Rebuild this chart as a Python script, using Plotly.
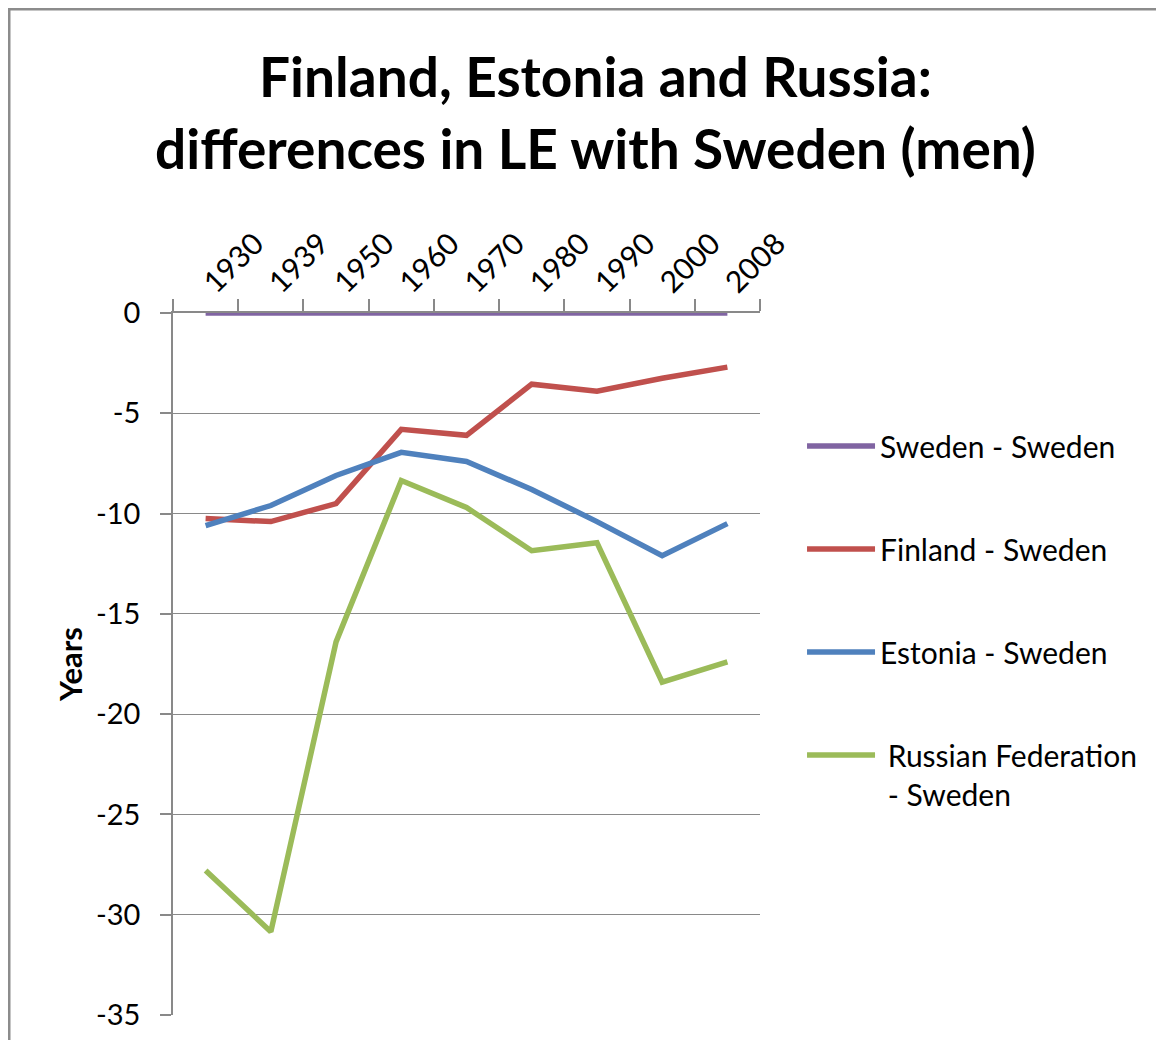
import plotly.graph_objects as go

years = ["1930", "1939", "1950", "1960", "1970", "1980", "1990", "2000", "2008"]
sweden = [0, 0, 0, 0, 0, 0, 0, 0, 0]
finland = [-10.25, -10.4, -9.5, -5.8, -6.1, -3.55, -3.9, -3.25, -2.7]
estonia = [-10.6, -9.6, -8.1, -6.95, -7.4, -8.8, -10.4, -12.1, -10.5]
russia = [-27.8, -30.85, -16.4, -8.35, -9.7, -11.85, -11.45, -18.4, -17.4]
y_ticks = [0, -5, -10, -15, -20, -25, -30, -35]
y_tick_labels = ["0", "-5", "-10", "-15", "-20", "-25", "-30", "-35"]

series = [
    ("Sweden - Sweden", sweden, "#8064A2"),
    ("Finland - Sweden", finland, "#C0504D"),
    ("Estonia - Sweden", estonia, "#4F81BD"),
    (" Russian Federation<br> - Sweden", russia, "#9BBB59"),
]

FONT = "Lato, 'Open Sans', sans-serif"
GRAY = "#898989"

fig = go.Figure()
for i, (name, vals, col) in enumerate(series):
    fig.add_trace(go.Scatter(
        x=years, y=vals, name=name, mode="lines",
        line=dict(color=col, width=5.5), legendgroup=f"g{i}",
    ))

# figure coordinates (page minus 8px body margin)
L, R, T, B = 165, 752, 305, 1007
W, H = 1148, 1032
pw, ph = R - L, B - T

fig.update_layout(
    width=W, height=H,
    margin=dict(l=L, r=W - R, t=T, b=H - B, autoexpand=False),
    paper_bgcolor="white", plot_bgcolor="white",
    font=dict(family=FONT, size=29, color="#000000"),
    xaxis=dict(
        type="category", side="top", range=[-0.5, 8.5],
        showline=True, linecolor=GRAY, linewidth=1.5,
        ticks="outside", tickson="boundaries", ticklen=12, tickcolor=GRAY, tickwidth=1.5,
        tickangle=-45, showgrid=False, zeroline=False,
        tickfont=dict(family=FONT, size=30),
    ),
    yaxis=dict(
        range=[-35, 0], tickvals=y_ticks, ticktext=y_tick_labels,
        showline=True, linecolor=GRAY, linewidth=1.5,
        ticks="outside", ticklen=11, tickcolor=GRAY, tickwidth=1.5,
        showgrid=True, gridcolor=GRAY, gridwidth=1.2, zeroline=False,
        tickfont=dict(family=FONT, size=29), ticklabelstandoff=14,
        title=dict(text="<b>Years</b>", font=dict(family=FONT, size=31), standoff=4),
    ),
    legend=dict(
        x=1.0716, xanchor="left",
        y=0.8476, yanchor="top",
        traceorder="grouped", tracegroupgap=61, valign="top",
        font=dict(family=FONT, size=30), itemwidth=68,
        bgcolor="rgba(0,0,0,0)",
    ),
    showlegend=True,
    annotations=[dict(
        text="<b>Finland, Estonia and Russia:<br>differences in LE with Sweden (men)</b>",
        xref="paper", yref="paper",
        x=(587 - L) / pw, y=(B - 104) / ph, xanchor="center", yanchor="middle",
        showarrow=False, align="center",
        font=dict(family=FONT, size=55, color="#000000"),
    )],
    shapes=[dict(
        type="rect", xref="paper", yref="paper",
        x0=(1 - L) / pw, x1=2.0, y0=-1.0, y1=(B - 1) / ph,
        line=dict(color="#8c8c8c", width=3), fillcolor="rgba(0,0,0,0)", layer="below",
    )],
)

fig.write_html("out.html")
